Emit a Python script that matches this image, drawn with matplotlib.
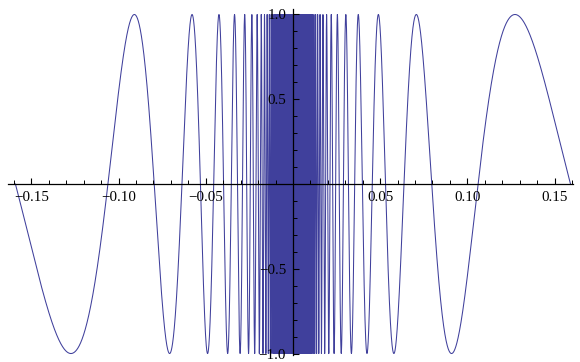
import numpy as np
import matplotlib
matplotlib.use("Agg")
import matplotlib.pyplot as plt
from matplotlib.ticker import FixedLocator, MultipleLocator

# Plotted function: y = sin(1/x) on x in [-1/(2*pi), 1/(2*pi)]
x_min, x_max = -1 / (2 * np.pi), 1 / (2 * np.pi)
n_samples = 400000
x_major_ticks = [-0.15, -0.10, -0.05, 0.05, 0.10, 0.15]
x_tick_labels = ["\u22120.15", "\u22120.10", "\u22120.05", "0.05", "0.10", "0.15"]
y_major_ticks = [-1.0, -0.5, 0.5, 1.0]
y_tick_labels = ["\u22121.0", "\u22120.5", "0.5", "1.0"]

x = np.linspace(x_min, x_max, n_samples)
x = x[x != 0]
y = np.sin(1.0 / x)

plt.rcParams['font.family'] = ['Liberation Serif', 'DejaVu Serif']

fig = plt.figure(figsize=(5.8, 3.62), dpi=100)
ax = fig.add_axes([0, 0, 1, 1])
ax.plot(x, y, color="#40409c", lw=0.75, antialiased=True, zorder=1)
ax.set_axisbelow(False)

ax.set_xlim(-0.168, 0.1646)
ax.set_ylim(-1.050, 1.0855)

for s in ["top", "right"]:
    ax.spines[s].set_visible(False)
ax.spines["left"].set_position(("data", 0))
ax.spines["bottom"].set_position(("data", 0))
ax.spines["left"].set_bounds(-1.01, 1.03)
ax.spines["bottom"].set_bounds(-0.1634, 0.1606)
ax.spines["left"].set_linewidth(0.9)
ax.spines["bottom"].set_linewidth(0.9)
ax.spines["left"].set_zorder(5)
ax.spines["bottom"].set_zorder(5)
ax.xaxis.set_zorder(5)
ax.yaxis.set_zorder(5)

ax.xaxis.set_major_locator(FixedLocator(x_major_ticks))
ax.set_xticklabels(x_tick_labels)
ax.xaxis.set_minor_locator(MultipleLocator(0.01))
ax.yaxis.set_major_locator(FixedLocator(y_major_ticks))
ax.set_yticklabels(y_tick_labels)
ax.yaxis.set_minor_locator(MultipleLocator(0.1))

ax.tick_params(axis="both", which="major", direction="in", length=4.5, width=0.8,
               labelsize=10.8, pad=5)
ax.tick_params(axis="both", which="minor", direction="in", length=2.8, width=0.7)

fig.savefig("out.png", dpi=100)
